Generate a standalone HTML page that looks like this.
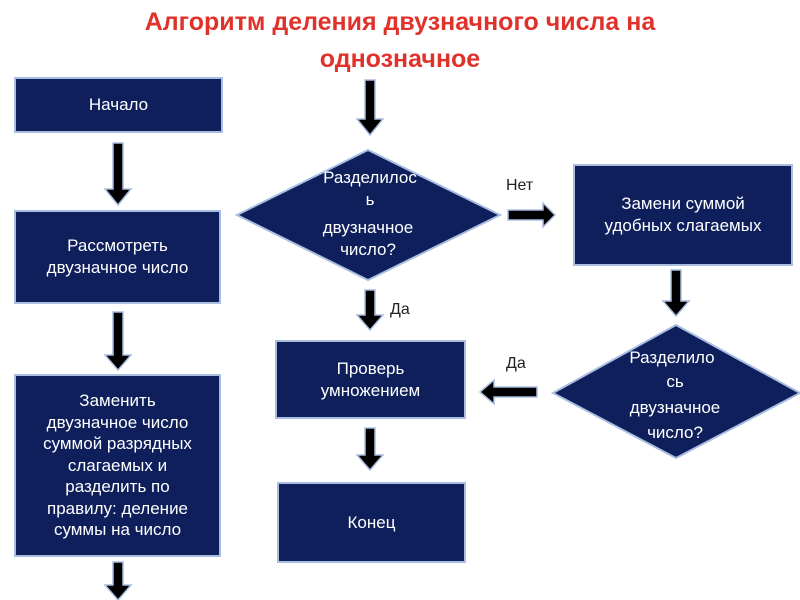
<!DOCTYPE html>
<html><head><meta charset="utf-8"><style>
body{margin:0;width:800px;height:600px;background:#fff;overflow:hidden;position:relative;font-family:"Liberation Sans",sans-serif}
.t{position:absolute;left:0;width:800px;text-align:center;color:#e0322b;font-weight:bold;font-size:25px}
.b{position:absolute;background:#0e1f5b;border:2px solid #a9bde0;box-sizing:border-box;color:#fff;font-size:17px;line-height:22px;text-align:center;display:flex;align-items:center;justify-content:center}
.l{position:absolute;font-size:16px;color:#222}
</style></head><body>
<div class="t" style="top:8px">Алгоритм деления двузначного числа на</div>
<div class="t" style="top:45px">однозначное</div>
<div class="b" style="left:14px;top:77px;width:209px;height:56px">Начало</div>
<div class="b" style="left:14px;top:210px;width:207px;height:94px">Рассмотреть<br>двузначное число</div>
<div class="b" style="left:14px;top:374px;width:207px;height:183px;line-height:21.5px">Заменить<br>двузначное число<br>суммой разрядных<br>слагаемых и<br>разделить по<br>правилу: деление<br>суммы на число</div>
<div class="b" style="left:573px;top:164px;width:220px;height:102px">Замени суммой<br>удобных слагаемых</div>
<div class="b" style="left:275px;top:340px;width:191px;height:79px">Проверь<br>умножением</div>
<div class="b" style="left:277px;top:482px;width:189px;height:81px">Конец</div>
<svg width="800" height="600" style="position:absolute;left:0;top:0">
<g fill="#0e1f5b" stroke="#a9bde0" stroke-width="2">
<polygon points="368,150 500,215 368,280 237,215"/>
<polygon points="676,325 800,393 676,458 553,393"/>
</g>
<g fill="#000" stroke="#a9bde0" stroke-width="1.5">
<polygon points="113,143 123,143 123,189 131,189 118,205 105,189 113,189"/>
<polygon points="113,312 123,312 123,355 131,355 118,370 105,355 113,355"/>
<polygon points="113,562 123,562 123,585 131,585 118,600 105,585 113,585"/>
<polygon points="365,80 375,80 375,119 383,119 370,135 357,119 365,119"/>
<polygon points="365,290 375,290 375,315 383,315 370,330 357,315 365,315"/>
<polygon points="365,428 375,428 375,455 383,455 370,470 357,455 365,455"/>
<polygon points="671,270 681,270 681,301 689,301 676,316 663,301 671,301"/>
<polygon points="508,210 543,210 543,203 555,215 543,227 543,220 508,220"/>
<polygon points="537,387 494,387 494,380 480,392 494,404 494,397 537,397"/>
</g>
<g fill="#fff" font-family="Liberation Sans,sans-serif" font-size="17" text-anchor="middle">
<text x="370" y="183">Разделилос</text><text x="370" y="205">ь</text><text x="368" y="233">двузначное</text><text x="368" y="255">число?</text>
<text x="672" y="363">Разделило</text><text x="675" y="387">сь</text><text x="675" y="413">двузначное</text><text x="675" y="438">число?</text>
</g>
</svg>
<div class="l" style="left:506px;top:177px">Нет</div>
<div class="l" style="left:390px;top:301px">Да</div>
<div class="l" style="left:506px;top:355px">Да</div>
</body></html>
